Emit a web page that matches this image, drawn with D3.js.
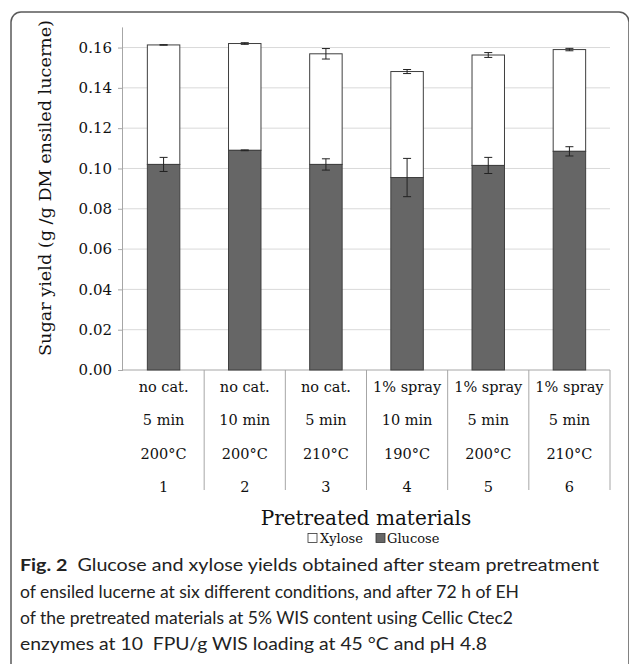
<!DOCTYPE html>
<html>
<head>
<meta charset="utf-8">
<script src="https://cdn.jsdelivr.net/npm/d3@7/dist/d3.min.js"></script>
<style>
  html, body { margin: 0; padding: 0; background: #fff; }
  svg { display: block; }
</style>
</head>
<body>
<svg id="chart" width="629" height="664"></svg>
<script>
// ---- data ----
const categories = ["1", "2", "3", "4", "5", "6"];
const catalystLabels = ["no cat.", "no cat.", "no cat.", "1% spray", "1% spray", "1% spray"];
const timeLabels = ["5 min", "10 min", "5 min", "10 min", "5 min", "5 min"];
const tempLabels = ["200°C", "200°C", "210°C", "190°C", "200°C", "210°C"];
const glucose = [0.1020, 0.1090, 0.1020, 0.0955, 0.1015, 0.1085];
const glucoseErr = [0.0035, 0.0002, 0.0028, 0.0095, 0.0040, 0.0023];
const xylose = [0.0593, 0.0530, 0.0549, 0.0526, 0.0548, 0.0505];
const xyloseErr = [0.0001, 0.0004, 0.0026, 0.0010, 0.0012, 0.0006];
const yTicks = [0, 0.02, 0.04, 0.06, 0.08, 0.10, 0.12, 0.14, 0.16];
const yTitle = "Sugar yield (g /g DM ensiled lucerne)";
const xTitle = "Pretreated materials";
const legendItems = ["Xylose", "Glucose"];
const captionLines = [
  ["Fig. 2", "Glucose and xylose yields obtained after steam pretreatment"],
  ["", "of ensiled lucerne at six different conditions, and after 72 h of EH"],
  ["", "of the pretreated materials at 5% WIS content using Cellic Ctec2"],
  ["", "enzymes at 10\u00a0 FPU/g WIS loading at 45 \u00b0C and pH 4.8"]
];

// ---- layout ----
const svg = d3.select("#chart");
const serif = "'DejaVu Serif', 'Liberation Serif', serif";
const sans = "Lato, 'Open Sans', 'Noto Sans', sans-serif";

// frame
svg.append("rect")
  .attr("x", 11).attr("y", 12)
  .attr("width", 618).attr("height", 670)
  .attr("rx", 10).attr("ry", 10)
  .attr("fill", "none").attr("stroke", "#5a5a5a").attr("stroke-width", 1.5);

const plotLeft = 123, plotRight = 610, plotBottom = 370, plotTop = 27.4;

const x = d3.scaleBand().domain(categories).range([plotLeft, plotRight])
  .paddingInner(0.6).paddingOuter(0.3);
const y = d3.scaleLinear().domain([0, 0.17]).range([plotBottom, plotTop]);

// gridlines
svg.append("g").selectAll("line").data(yTicks.slice(1)).join("line")
  .attr("x1", plotLeft).attr("x2", plotRight)
  .attr("y1", d => y(d)).attr("y2", d => y(d))
  .attr("stroke", "#d9d9d9").attr("stroke-width", 1);

// y axis
const yAxis = d3.axisLeft(y).tickValues(yTicks).tickFormat(d3.format(".2f"))
  .tickSize(5).tickPadding(6);
const gy = svg.append("g").attr("transform", `translate(${plotLeft},0)`).call(yAxis);
gy.select(".domain").attr("stroke", "#a6a6a6").attr("d", `M-0.5,${plotTop}V${plotBottom}`);
gy.selectAll(".tick line").attr("stroke", "#a6a6a6");
gy.selectAll(".tick text").attr("font-family", serif).attr("font-size", 15).attr("fill", "#111");

// x axis baseline + category dividers
const step = x.step();
svg.append("line")
  .attr("x1", plotLeft).attr("x2", plotRight)
  .attr("y1", plotBottom).attr("y2", plotBottom)
  .attr("stroke", "#a6a6a6").attr("stroke-width", 1);
const dividerXs = categories.map(c => x(c) + x.bandwidth() / 2 + step / 2);
svg.append("g").selectAll("line").data(dividerXs).join("line")
  .attr("x1", d => d).attr("x2", d => d)
  .attr("y1", plotBottom).attr("y2", 490)
  .attr("stroke", "#a6a6a6").attr("stroke-width", 1);

// bars
const barStroke = "#3f3f3f";
const g = svg.append("g");
categories.forEach((c, i) => {
  const bx = x(c), bw = x.bandwidth();
  const top = glucose[i] + xylose[i];
  g.append("rect").attr("x", bx).attr("width", bw)
    .attr("y", y(top)).attr("height", y(glucose[i]) - y(top))
    .attr("fill", "#ffffff").attr("stroke", barStroke).attr("stroke-width", 1);
  g.append("rect").attr("x", bx).attr("width", bw)
    .attr("y", y(glucose[i])).attr("height", y(0) - y(glucose[i]))
    .attr("fill", "#666666").attr("stroke", barStroke).attr("stroke-width", 1);
});

// error bars
function errBar(cx, v, e) {
  const cap = 4;
  const eg = svg.append("g").attr("stroke", "#222").attr("stroke-width", 1);
  eg.append("line").attr("x1", cx).attr("x2", cx).attr("y1", y(v - e)).attr("y2", y(v + e));
  eg.append("line").attr("x1", cx - cap).attr("x2", cx + cap).attr("y1", y(v - e)).attr("y2", y(v - e));
  eg.append("line").attr("x1", cx - cap).attr("x2", cx + cap).attr("y1", y(v + e)).attr("y2", y(v + e));
}
categories.forEach((c, i) => {
  const cx = x(c) + x.bandwidth() / 2;
  errBar(cx, glucose[i], glucoseErr[i]);
  errBar(cx, glucose[i] + xylose[i], xyloseErr[i]);
});

// x category labels (4 rows)
const rows = [catalystLabels, timeLabels, tempLabels, categories];
const rowY = [387, 420, 454, 487];
rows.forEach((row, r) => {
  svg.append("g").selectAll("text").data(categories).join("text")
    .attr("x", c => x(c) + x.bandwidth() / 2)
    .attr("y", rowY[r])
    .attr("dy", "0.35em")
    .attr("text-anchor", "middle")
    .attr("font-family", serif).attr("font-size", 14.5).attr("fill", "#111")
    .text((c, i) => row[i]);
});

// axis titles
svg.append("text")
  .attr("transform", `translate(45,188) rotate(-90)`)
  .attr("text-anchor", "middle").attr("dy", "0.35em")
  .attr("font-family", serif).attr("font-size", 17.5).attr("fill", "#111")
  .attr("textLength", 336).attr("lengthAdjust", "spacingAndGlyphs")
  .text(yTitle);

svg.append("text")
  .attr("x", 366).attr("y", 518).attr("dy", "0.35em")
  .attr("text-anchor", "middle")
  .attr("font-family", serif).attr("font-size", 20).attr("fill", "#111")
  .text(xTitle);

// legend
const lg = svg.append("g").attr("font-family", serif).attr("font-size", 13).attr("fill", "#111");
lg.append("rect").attr("x", 308).attr("y", 533.5).attr("width", 9).attr("height", 9)
  .attr("fill", "#fff").attr("stroke", "#333").attr("stroke-width", 0.8);
lg.append("text").attr("x", 320).attr("y", 538).attr("dy", "0.35em").text(legendItems[0]);
lg.append("rect").attr("x", 376).attr("y", 533.5).attr("width", 9).attr("height", 9)
  .attr("fill", "#666").attr("stroke", "#333").attr("stroke-width", 0.8);
lg.append("text").attr("x", 387).attr("y", 538).attr("dy", "0.35em").text(legendItems[1]);

// caption
const capBase = [571, 598, 624, 650];
const capEnds = [599, 519, 513, 487];
captionLines.forEach((ln, i) => {
  const t = svg.append("text")
    .attr("x", 20).attr("y", capBase[i])
    .attr("font-family", sans).attr("font-size", 17).attr("fill", "#222");
  if (ln[0]) {
    t.append("tspan").attr("font-weight", "bold").text(ln[0]);
    t.append("tspan").text("\u00a0\u00a0" + ln[1]);
  } else {
    t.text(ln[1]);
  }
  t.attr("textLength", capEnds[i] - 20).attr("lengthAdjust", "spacingAndGlyphs");
});
</script>
</body>
</html>
